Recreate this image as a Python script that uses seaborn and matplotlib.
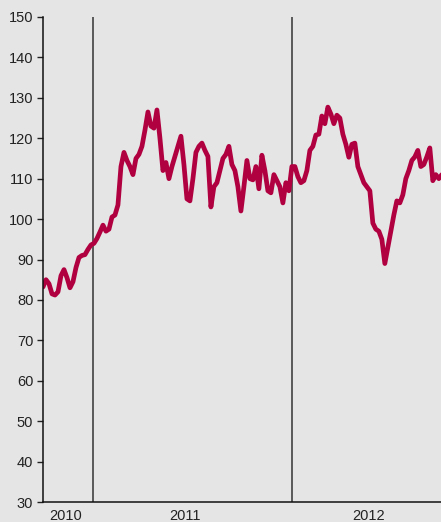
import pandas as pd
import numpy as np
import matplotlib
matplotlib.use('Agg')
import matplotlib.pyplot as plt
import seaborn as sns

# index values, one every ~5.5 days from Oct 2010
values = [83.2, 85, 84, 81.5, 81.2, 82, 86, 87.5, 85.5, 83,
          84.5, 88, 90.5, 91, 91.2, 92.5, 93.6, 94, 95.2, 96.8,
          98.5, 97, 97.5, 100.5, 101, 103.5, 113, 116.5, 114.5, 113,
          111, 115, 116, 118, 122, 126.5, 123, 122.5, 127, 120,
          112, 114, 110, 113, 115.5, 118, 120.5, 113.5, 105, 104.5,
          110, 116.5, 118, 118.8, 117, 115.5, 103, 108, 109, 112,
          115, 116, 118, 113.5, 112, 108, 102, 108, 114.5, 110,
          109.7, 113, 107.5, 115.8, 112, 107, 106.5, 111, 109.5, 108,
          104, 109, 107, 113, 113, 110.5, 109, 109.5, 112, 117,
          118, 120.8, 121, 125.5, 123.6, 127.7, 126, 123.6, 125.7, 125,
          121, 118.5, 115.3, 118.5, 118.8, 113, 111, 109, 108, 107,
          99, 97.5, 97, 95, 89, 93, 97, 101, 104.5, 104,
          106, 110, 112, 114.5, 115.4, 117, 113, 113.5, 115.4, 117.6,
          109.5, 111, 110, 111]
dates = pd.date_range('2010-10-01', periods=len(values), freq='132h')
df = pd.DataFrame({'date': dates, 'value': values})

year_labels = ['2010', '2011', '2012']
year_label_pos = pd.to_datetime(['2010-11-12', '2011-06-18', '2012-05-21'])
year_breaks = pd.to_datetime(['2011-01-01', '2012-01-01'])

bg = '#e5e5e5'
sns.set_style('ticks')
plt.rcParams['font.family'] = ['Liberation Sans', 'DejaVu Sans']

fig = plt.figure(figsize=(4.41, 5.22), dpi=100, facecolor=bg)
ax = fig.add_axes([43 / 441, 20 / 522, 398 / 441, 485 / 522], facecolor=bg)

sns.lineplot(data=df, x='date', y='value', color='#b1003f', lw=3.4, ax=ax)

for d in year_breaks:
    ax.axvline(d, color='#333333', lw=1.1, zorder=1)

ax.set_ylim(30, 150)
ax.set_yticks(np.arange(30, 151, 10))
ax.set_xlim(pd.Timestamp('2010-10-01'), pd.Timestamp('2012-09-30'))
ax.set_xticks(year_label_pos)
ax.set_xticklabels(year_labels)
ax.tick_params(axis='x', length=0, pad=5, labelsize=10.5, colors='#222222')
ax.tick_params(axis='y', length=4, width=1, pad=3, labelsize=10.5, colors='#222222')
ax.set_xlabel('')
ax.set_ylabel('')

for s in ['top', 'right']:
    ax.spines[s].set_visible(False)
ax.spines['left'].set_color('#111111')
ax.spines['bottom'].set_color('#111111')
ax.spines['left'].set_linewidth(1.1)
ax.spines['bottom'].set_linewidth(1.1)

fig.savefig('out.png', dpi=100, facecolor=bg)
plt.close()
